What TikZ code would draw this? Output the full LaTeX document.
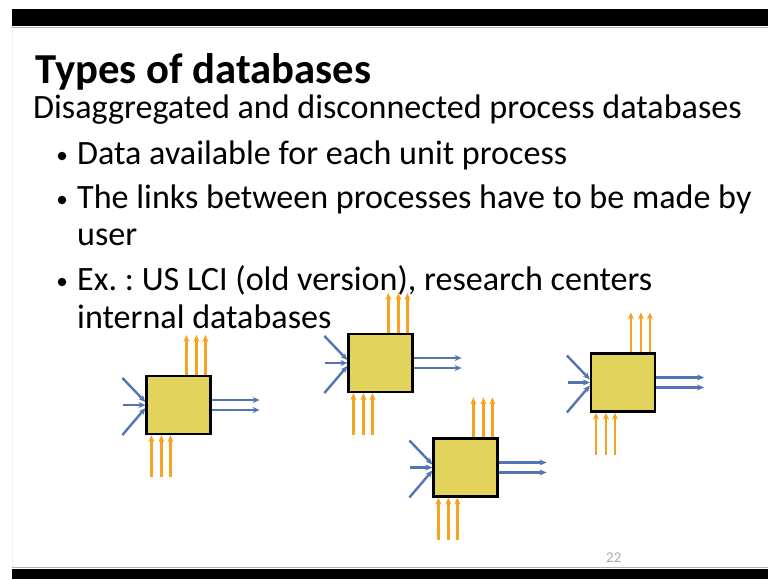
\documentclass[tikz,border=0pt]{standalone}
\usepackage{fontspec}
\setmainfont{Carlito}
\usetikzlibrary{calc,arrows.meta}
\definecolor{boxfill}{HTML}{E2D35C}
\definecolor{flowor}{HTML}{F5A321}
\definecolor{flowbl}{HTML}{5574B4}
\definecolor{pagegrey}{HTML}{A8A8A8}
\newcommand{\procflows}[1]{%
  \foreach \dx in {41,51,60}{\draw[orarrow] ($(#1.north west)+(\dx,0)$) -- ++(0,-40);}
  \foreach \dx in {6,16,25}{\draw[orarrow] ($(#1.south west)+(\dx,42)$) -- ($(#1.south west)+(\dx,0)$);}
  \draw[blarrow] ($(#1.west)+(-23,-27)$) -- ($(#1.west)+(0,-3)$);
  \draw[blarrow] ($(#1.west)+(-22,0)$) -- (#1.west);
  \draw[blarrow] ($(#1.west)+(-23,30)$) -- ($(#1.west)+(0,3)$);
  \draw[blarrow] ($(#1.east)+(0,-5)$) -- ++(48,0);
  \draw[blarrow] ($(#1.east)+(0,5)$) -- ++(48,0);
}
\frenchspacing
\begin{document}
\begin{tikzpicture}[x=1pt,y=-1pt,
  procbox/.style={draw=black,line width=2.2pt,fill=boxfill,minimum width=64pt,minimum height=58pt,inner sep=0pt},
  orarrow/.style={draw=flowor,line width=2.4pt,-{Stealth[length=7pt,width=6pt]}},
  blarrow/.style={draw=flowbl,line width=2.4pt,-{Stealth[length=7pt,width=6pt]}},
  slidetext/.style={anchor=base west,inner sep=0pt,font=\fontsize{34.1}{40}\selectfont},
  titletext/.style={anchor=base west,inner sep=0pt,font=\bfseries\fontsize{42.7}{48}\selectfont},
  bulletmark/.style={circle,fill=black,inner sep=0pt,minimum size=8.5pt}]
\useasboundingbox (0,0) rectangle (768,579);
\fill[white] (0,0) rectangle (768,579);
\fill[black] (12,9) rectangle (768,26);
\draw[gray!60,line width=1pt] (12,27.5) -- (768,27.5);
\fill[black] (12,569) rectangle (768,579);
\draw[gray!60,line width=1pt] (12,567.5) -- (768,567.5);
\draw[gray!10,line width=0.8pt] (12.5,28) -- (12.5,567);

\node[titletext] (title) at (35,83) {Types of databases};
\node[slidetext] (sub) at (33,118) {Disaggregated and disconnected process databases};
\node[bulletmark] (b1) at (62,156) {};
\node[slidetext] (t1) at (77,164) {Data available for each unit process};
\node[bulletmark] (b2) at (62,200) {};
\node[slidetext] (t2) at (77,208) {The links between processes have to be made by};
\node[slidetext] (t2b) at (77,245) {user};
\node[bulletmark] (b3) at (62,282) {};
\node[slidetext] (t3) at (77,290) {Ex. : US LCI (old version), research centers};
\node[slidetext] (t3b) at (77,328) {internal databases};
\node[anchor=base west,inner sep=0pt,text=pagegrey,font=\fontsize{15}{18}\selectfont] (pg) at (606,562) {22};

\node[procbox] (p1) at (178.5,405) {};
\node[procbox] (p2) at (380.5,363) {};
\node[procbox] (p3) at (465.5,467.5) {};
\node[procbox] (p4) at (623,382.5) {};
\procflows{p1}
\procflows{p2}
\procflows{p3}
\procflows{p4}
\end{tikzpicture}
\end{document}
